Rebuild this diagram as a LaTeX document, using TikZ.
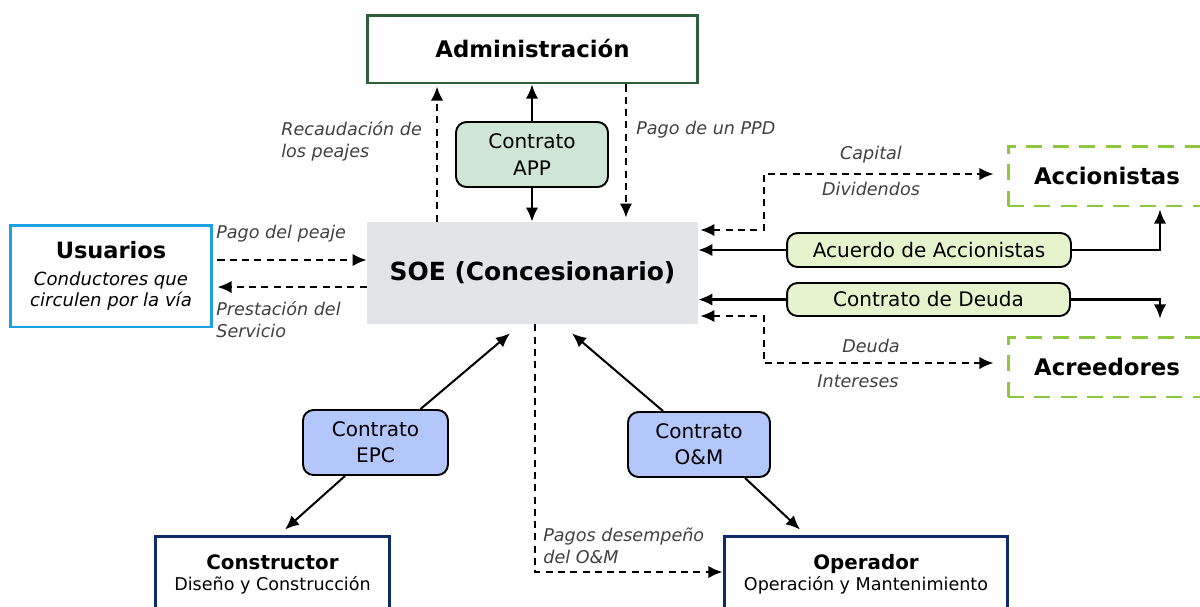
\documentclass[tikz,border=0pt]{standalone}
\usepackage{fontspec}
\setmainfont{DejaVu Sans}
\usetikzlibrary{arrows.meta}

\definecolor{verdeosc}{HTML}{2F5E3B}
\definecolor{verdeapp}{HTML}{CFE6D6}
\definecolor{azulusu}{HTML}{1BA1E2}
\definecolor{verdelim}{HTML}{8DC63F}
\definecolor{verdeacu}{HTML}{E6F4CE}
\definecolor{azulcon}{HTML}{B4C7FA}
\definecolor{marino}{HTML}{0D2B6B}
\definecolor{grissoe}{HTML}{E3E4E6}
\definecolor{grisetq}{HTML}{404040}

\begin{document}
\begin{tikzpicture}[x=0.02cm, y=-0.02cm,
        actor/.style={draw, line width=1.7pt, fill=white, align=center, inner sep=0pt},
        contrato/.style={draw, line width=1.1pt, rounded corners=6pt, align=center, inner sep=0pt,
        font=\fontsize{11.4}{15}\selectfont},
        titulo/.style={font=\fontsize{13}{16}\selectfont\bfseries},
        etiqueta/.style={font=\fontsize{10}{12.5}\selectfont\itshape, text=grisetq, align=left, inner sep=0pt},
        flecha/.style={line width=1.15pt, -{Latex[length=8pt, width=7pt]}},
        flechap/.style={flecha, dash pattern=on 4pt off 3pt},
        doble/.style={line width=1.15pt, dash pattern=on 4pt off 3pt,
        {Latex[length=8pt, width=7pt]}-{Latex[length=8pt, width=7pt]}}
    ]
        \useasboundingbox (0,0) rectangle (1200,606);
        % actores
        \node[actor, draw=verdeosc, minimum width=6.62cm, minimum height=1.36cm, titulo]
        (admin) at (532.5,49) {Administración};
        \node[draw=none, fill=grissoe, minimum width=6.62cm, minimum height=2.04cm,
        font=\fontsize{14.2}{17}\selectfont\bfseries] (soe) at (532.5,273) {SOE (Concesionario)};
        \node[actor, draw=azulusu, minimum width=4.04cm, minimum height=2.04cm] (usu) at (111,276)
        {{\fontsize{12.8}{16}\selectfont\bfseries Usuarios}\\[3pt]
        {\fontsize{10.3}{12.5}\selectfont\itshape Conductores que}\\
        {\fontsize{10.3}{12.5}\selectfont\itshape circulen por la vía}};
        \node[actor, draw=verdelim, dash pattern=on 9pt off 6pt, minimum width=3.96cm,
        minimum height=1.2cm, titulo] (acc) at (1107,176) {Accionistas};
        \node[actor, draw=verdelim, dash pattern=on 9pt off 6pt, minimum width=3.96cm,
        minimum height=1.2cm, titulo] (acr) at (1107,367) {Acreedores};
        \node[actor, draw=marino, minimum width=4.7cm, minimum height=1.54cm] (cons) at (272.5,574.5)
        {{\fontsize{11.3}{14}\selectfont\bfseries Constructor}\\
        {\fontsize{10}{13}\selectfont Diseño y Construcción}};
        \node[actor, draw=marino, minimum width=5.68cm, minimum height=1.54cm] (oper) at (866,574.5)
        {{\fontsize{11.3}{14}\selectfont\bfseries Operador}\\
        {\fontsize{10}{13}\selectfont Operación y Mantenimiento}};
        % contratos
        \node[contrato, fill=verdeapp, minimum width=3.04cm, minimum height=1.3cm] (app) at (532,154.5)
        {Contrato\\APP};
        \node[contrato, fill=verdeacu, minimum width=5.68cm, minimum height=0.68cm] (acuerdo) at (929,250)
        {Acuerdo de Accionistas};
        \node[contrato, fill=verdeacu, minimum width=5.66cm, minimum height=0.66cm] (deuda) at (928.5,299.5)
        {Contrato de Deuda};
        \node[contrato, fill=azulcon, minimum width=2.9cm, minimum height=1.3cm] (epc) at (375.5,442.5)
        {Contrato\\EPC};
        \node[contrato, fill=azulcon, minimum width=2.84cm, minimum height=1.3cm] (om) at (699,444.5)
        {Contrato\\O\&M};
        % etiquetas
        \node[etiqueta, anchor=west] (lrec) at (281,141) {Recaudación de\\los peajes};
        \node[etiqueta, anchor=west] (lppd) at (636,130) {Pago de un PPD};
        \node[etiqueta, anchor=west] (lpea) at (216,234) {Pago del peaje};
        \node[etiqueta, anchor=west] (lpre) at (216,320) {Prestación del\\Servicio};
        \node[etiqueta] (lcap) at (871,155) {Capital};
        \node[etiqueta] (ldiv) at (871,189) {Dividendos};
        \node[etiqueta] (ldeu) at (871,346) {Deuda};
        \node[etiqueta] (lint) at (858,381) {Intereses};
        \node[etiqueta, anchor=west] (ldes) at (543,546) {Pagos desempeño\\del O\&M};
        % conexiones
        \draw[flechap] ([xshift=-1.91cm]soe.north) -- ([xshift=-1.91cm, yshift=-0.04cm]admin.south);
        \draw[flechap] ([xshift=1.87cm]admin.south) -- ([xshift=1.87cm, yshift=0.08cm]soe.north);
        \draw[flecha] (app.north) -- (app.north |- admin.south);
        \draw[flecha] (app.south) -- (app.south |- soe.north);
        \draw[flechap] ([xshift=0.08cm, yshift=0.32cm]usu.east) -- ([yshift=0.32cm]usu.east -| soe.west);
        \draw[flechap] ([yshift=-0.22cm]usu.east -| soe.west) -- ([xshift=0.08cm, yshift=-0.22cm]usu.east);
        \draw[doble] ([xshift=0.04cm, yshift=0.86cm]soe.east)
        -| ([xshift=-4.86cm, yshift=0.04cm]acc.west) -- ([xshift=-0.26cm, yshift=0.04cm]acc.west);
        \draw[doble] ([xshift=0.04cm, yshift=-0.86cm]soe.east)
        -| ([xshift=-4.86cm, yshift=0.08cm]acr.west) -- ([xshift=-0.26cm, yshift=0.08cm]acr.west);
        \draw[flecha] (acuerdo.west) -- (acuerdo.west -| soe.east);
        \draw[flecha] (acuerdo.east) -| ([xshift=1.06cm, yshift=-0.04cm]acc.south);
        \draw[flecha] (deuda.west) -- (deuda.west -| soe.east);
        \draw[flecha] (deuda.east) -| ([xshift=1.06cm, yshift=0.34cm]acr.north);
        \draw[flecha] ([xshift=0.9cm]epc.north) -- ([xshift=-0.45cm, yshift=-0.18cm]soe.south);
        \draw[flecha] ([xshift=-0.61cm]epc.south) -- ([xshift=0.25cm, yshift=0.1cm]cons.north);
        \draw[flecha] ([xshift=-0.72cm]om.north) -- ([xshift=0.79cm, yshift=-0.18cm]soe.south);
        \draw[flecha] ([xshift=0.92cm]om.south) -- ([xshift=-1.32cm, yshift=0.1cm]oper.north);
        \draw[flechap] ([xshift=0.05cm]soe.south) |- ([yshift=0.05cm]oper.west);
    \end{tikzpicture}
\end{document}
